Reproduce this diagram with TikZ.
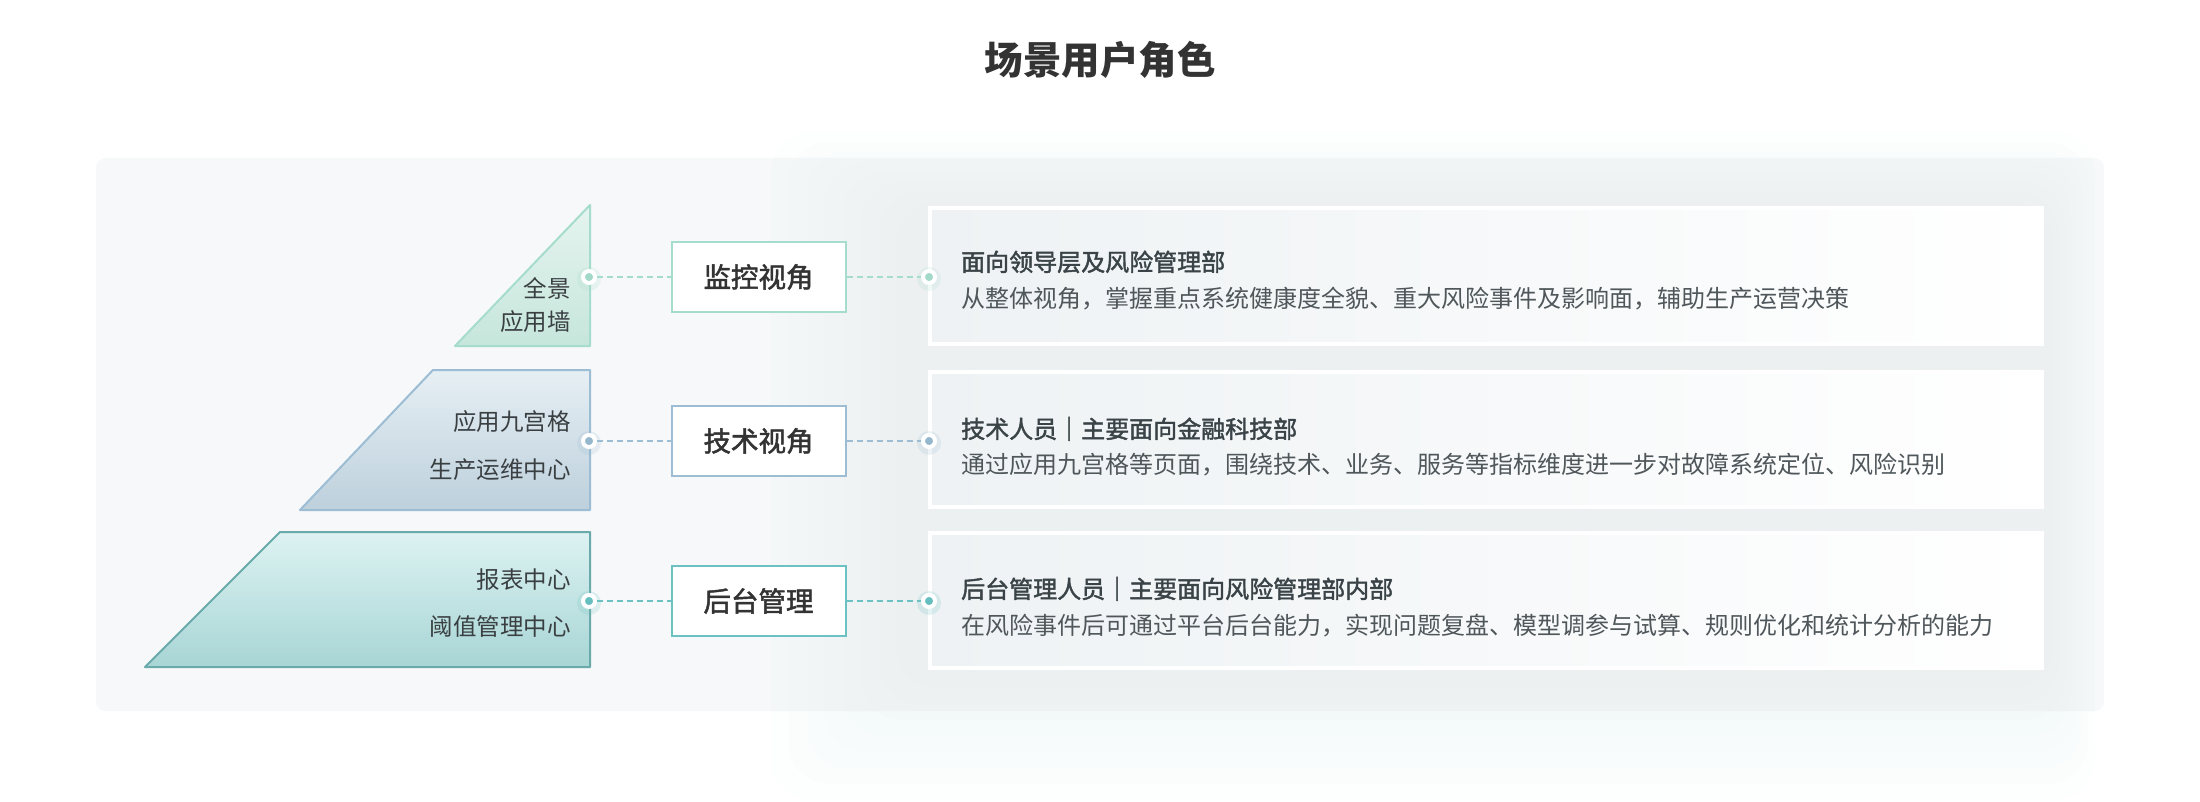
\documentclass[tikz,border=0pt]{standalone}
\usepackage{fontspec}
\setmainfont{Noto Sans CJK SC}
\newfontfamily\medfont[FakeBold=1.8]{Noto Sans CJK SC}
\usetikzlibrary{calc}
\definecolor{panelc}{HTML}{F6F8F9}
\definecolor{shadowc}{HTML}{B4C6CF}
\definecolor{titlec}{HTML}{333333}
\definecolor{headc}{HTML}{3A4347}
\definecolor{bodyc}{HTML}{4F575B}
\definecolor{labc}{HTML}{3A3F42}
% green row
\definecolor{gB}{HTML}{A6DCCB}
\definecolor{gT}{HTML}{E5F4EF}
\definecolor{gM}{HTML}{C6E6DB}
\definecolor{gD}{HTML}{A2D9C8}
% blue row
\definecolor{bB}{HTML}{9CBDD4}
\definecolor{bT}{HTML}{E6EFF4}
\definecolor{bM}{HTML}{BDD0DC}
\definecolor{bD}{HTML}{96B8CE}
% teal row
\definecolor{tB}{HTML}{6AAAAA}
\definecolor{tX}{HTML}{6CC2C2}
\definecolor{tT}{HTML}{DDF2F2}
\definecolor{tM}{HTML}{A8D5D5}
\definecolor{tD}{HTML}{66BEBE}
\definecolor{cardL}{HTML}{EEF2F4}
\begin{document}
\begin{tikzpicture}[x=1pt,y=-1pt,
  rolebox/.style={draw=#1, line width=2, fill=white, minimum width=174, minimum height=70, inner sep=0,
    font=\medfont\fontsize{27.5}{30}\selectfont, text=titlec},
  card/.style={draw=white, line width=4, left color=cardL, right color=white, minimum width=1112, minimum height=135, inner sep=0},
  conn/.style={draw=#1, line width=2, dash pattern=on 6 off 4},
  pdot/.style={circle, fill=#1, draw=white, line width=4, minimum size=12, inner sep=0},
  tlab/.style={anchor=east, font=\fontsize{23.5}{26}\selectfont, text=labc, inner sep=0},
  head/.style={anchor=base west, font=\medfont\fontsize{24}{26}\selectfont, text=headc, inner sep=0},
  body/.style={anchor=base west, font=\fontsize{24}{26}\selectfont, text=bodyc, inner sep=0}]
\useasboundingbox (0,0) rectangle (2200,802);
\fill[white] (0,0) rectangle (2200,802);
% title
\node[font=\bfseries\fontsize{38.5}{44}\selectfont, text=titlec] (title) at (1100,60) {场景用户角色};
% panel
\fill[panelc, rounded corners=10] (96,158) rectangle (2104,711);
% soft shadow behind cards
\foreach \i in {1,...,8} {
  \fill[shadowc, opacity=0.017, rounded corners=40] (915-18*\i, 212-10*\i) rectangle (2046+6*\i, 672+16*\i);
}
% shapes
\shade[top color=gT, bottom color=gM, draw=gB, line width=2, line join=round]
  (590,205) -- (590,346) -- (455,346) -- cycle;
\shade[top color=bT, bottom color=bM, draw=bB, line width=2, line join=round]
  (433,370) -- (590,370) -- (590,510) -- (300,510) -- cycle;
\shade[top color=tT, bottom color=tM, draw=tB, line width=2, line join=round]
  (280,532) -- (590,532) -- (590,667) -- (145,667) -- cycle;
% shape labels
\node[tlab] (l1a) at (571,288) {全景};
\node[tlab] (l1b) at (571,322) {应用墙};
\node[tlab] (l2a) at (571,422) {应用九宫格};
\node[tlab] (l2b) at (571,470) {生产运维中心};
\node[tlab] (l3a) at (571,580) {报表中心};
\node[tlab] (l3b) at (571,627) {阈值管理中心};
% cards
\node[card] (c1) at (1486,276) {};
\node[card] (c2) at (1486,439.5) {};
\node[card] (c3) at (1486,600) {};
\node[head] (h1) at (961,271) {面向领导层及风险管理部};
\node[body] (t1) at (961,307) {从整体视角，掌握重点系统健康度全貌、重大风险事件及影响面，辅助生产运营决策};
\node[head] (h2) at (961,438) {技术人员｜主要面向金融科技部};
\node[body] (t2) at (961,473) {通过应用九宫格等页面，围绕技术、业务、服务等指标维度进一步对故障系统定位、风险识别};
\node[head] (h3) at (961,598) {后台管理人员｜主要面向风险管理部内部};
\node[body] (t3) at (961,634) {在风险事件后可通过平台后台能力，实现问题复盘、模型调参与试算、规则优化和统计分析的能力};
% role boxes
\node[rolebox=gB] (b1) at (758.5,277) {监控视角};
\node[rolebox=bB] (b2) at (758.5,441) {技术视角};
\node[rolebox=tX] (b3) at (758.5,601) {后台管理};
% dot glows
\foreach \c/\x/\y in {gD/589/277, gD/929/277, bD/929/441, bD/589/441, tD/589/601, tD/929/601} {
  \fill[\c, opacity=0.18] (\x,\y+2) circle (12);
}
% connectors
\node[pdot=gD] (d1l) at (589,277) {};
\node[pdot=gD] (d1r) at (929,277) {};
\node[pdot=bD] (d2l) at (589,441) {};
\node[pdot=bD] (d2r) at (929,441) {};
\node[pdot=tD] (d3l) at (589,601) {};
\node[pdot=tD] (d3r) at (929,601) {};
\draw[conn=gB] (d1l) -- (b1);
\draw[conn=gB] (b1) -- (d1r);
\draw[conn=bB] (d2l) -- (b2);
\draw[conn=bB] (b2) -- (d2r);
\draw[conn=tX] (d3l) -- (b3);
\draw[conn=tX] (b3) -- (d3r);
\end{tikzpicture}
\end{document}
